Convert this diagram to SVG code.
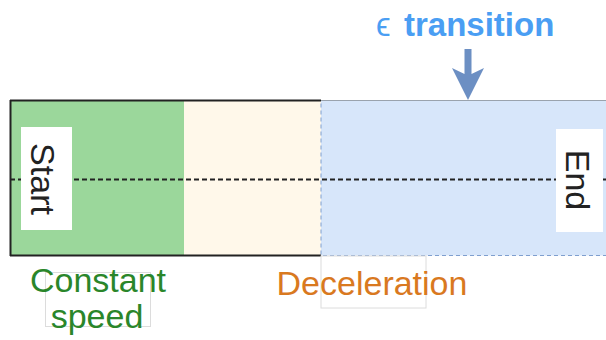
<svg xmlns="http://www.w3.org/2000/svg" width="606" height="340" viewBox="0 0 606 340">
<style>
.lbl{font-family:"Liberation Sans",Arial,sans-serif;font-size:34px}
.ghost{fill:none;stroke:#dcdcdc;stroke-width:1}
</style>
<rect width="606" height="340" fill="#ffffff"/>
<g id="zones">
<g id="constant-zone"><rect x="11" y="101" width="173" height="155" fill="#9bd79b"/></g>
<g id="decel-zone"><rect x="184" y="101" width="137" height="155" fill="#fff8ea"/></g>
<g id="transition-zone"><rect x="321" y="100.5" width="300" height="155" fill="#d7e6fa" stroke="#7f9fcf" stroke-width="1" stroke-dasharray="4,3"/></g>
</g>
<g id="frame">
<path d="M10,100.5 H321 M10,255.5 H321 M10.5,100 V256" fill="none" stroke="#222" stroke-width="2"/>
<line x1="321" y1="100.5" x2="606" y2="100.5" stroke="#9aa3ad" stroke-width="1"/>
</g>
<g id="connectors">
<line x1="10" y1="179.5" x2="606" y2="179.5" stroke="#222" stroke-width="2" stroke-dasharray="5,3"/>
<path d="M464.5,49 H471.5 V74 L484,68 L468,100 L452,68 L464.5,74 Z" fill="#6c8fc3"/>
</g>
<g id="start">
<rect x="21" y="127" width="51" height="103" fill="#ffffff"/>
<text class="lbl" fill="#222" text-anchor="middle" transform="translate(31,179) rotate(90)">Start</text>
</g>
<g id="end">
<rect x="556" y="129" width="47" height="103" fill="#ffffff"/>
<text class="lbl" fill="#222" text-anchor="middle" transform="translate(566,180) rotate(90)">End</text>
</g>
<g id="constant-label">
<rect class="ghost" x="45.5" y="272.5" width="105" height="54"/>
<text class="lbl" fill="#2a862a" text-anchor="middle" x="98" y="291.5">Constant</text>
<text class="lbl" fill="#2a862a" text-anchor="middle" x="97" y="328">speed</text>
</g>
<g id="decel-label">
<rect class="ghost" x="321" y="256" width="105" height="52"/>
<text class="lbl" fill="#d9791f" text-anchor="middle" x="372" y="295">Deceleration</text>
</g>
<g id="transition-label">
<text font-family="Liberation Sans,Arial,sans-serif" font-size="33" fill="#4a9ef3" y="36"><tspan x="376" font-weight="normal">ϵ</tspan><tspan x="404" font-weight="bold">transition</tspan></text>
</g>
</svg>
